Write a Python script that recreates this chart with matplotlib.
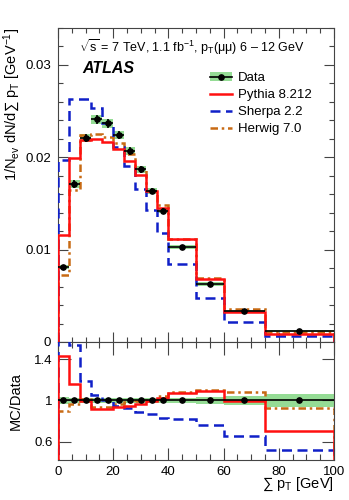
import numpy as np
import matplotlib
matplotlib.use("Agg")
import matplotlib.pyplot as plt
from matplotlib.patches import Patch
from matplotlib.lines import Line2D

plt.rcParams['font.family'] = ['Liberation Sans', 'DejaVu Sans']
plt.rcParams['mathtext.fontset'] = 'custom'
plt.rcParams['mathtext.rm'] = 'Liberation Sans'
plt.rcParams['mathtext.it'] = 'Liberation Sans:italic'
plt.rcParams['mathtext.bf'] = 'Liberation Sans:bold'

# bin edges of sum pT [GeV]
edges = [0, 4, 8, 12, 16, 20, 24, 28, 32, 36, 40, 50, 60, 75, 100]

# normalised distributions
data = [0.0081, 0.0171, 0.0221, 0.0241, 0.0237, 0.0224, 0.0207, 0.0187,
        0.0164, 0.0142, 0.0103, 0.00628, 0.00332, 0.00119]
data_relerr = [0.03, 0.025, 0.02, 0.02, 0.02, 0.02, 0.02, 0.02,
               0.02, 0.02, 0.02, 0.03, 0.04, 0.065]
pythia = [0.0116, 0.0199, 0.0219, 0.0220, 0.0217, 0.0209, 0.0196, 0.0181,
          0.0163, 0.0145, 0.0111, 0.00686, 0.0033, 0.00084]
sherpa = [0.0197, 0.0263, 0.0263, 0.0253, 0.0237, 0.0211, 0.0191, 0.0166,
          0.01425, 0.0118, 0.0084, 0.00478, 0.00218, 0.00061]
herwig = [0.0073, 0.0165, 0.0224, 0.0225, 0.0222, 0.0216, 0.0204, 0.0186,
          0.0164, 0.0148, 0.0112, 0.0069, 0.0036, 0.0011]

edges = np.array(edges, dtype=float)
data = np.array(data)
err = data * np.array(data_relerr)
centers = 0.5 * (edges[1:] + edges[:-1])
widths = np.diff(edges)

green = '#95dc95'
c_py, c_sh, c_hw = '#ff1010', '#1020c8', '#c86a14'
ls_sh = (0, (4, 2.2))
ls_hw = (0, (3, 1.5, 1, 1.5))

fig = plt.figure(figsize=(3.49, 5.0), dpi=100)
ax = fig.add_axes([0.166, 0.316, 0.791, 0.628])
rx = fig.add_axes([0.166, 0.08, 0.791, 0.236], sharex=ax)

# ---- top panel
ax.bar(edges[:-1], 2 * err, bottom=data - err, width=widths, align='edge',
       color=green, lw=0, zorder=1)
ax.stairs(herwig, edges, color=c_hw, lw=1.8, ls=ls_hw, zorder=2)
ax.stairs(sherpa, edges, color=c_sh, lw=1.8, ls=ls_sh, zorder=3)
ax.stairs(pythia, edges, color=c_py, lw=1.8, zorder=4)
ax.errorbar(centers, data, xerr=widths / 2, yerr=err, fmt='o', color='black',
            ms=3.8, lw=1.2, capsize=0, zorder=5)

ax.set_xlim(0, 100)
ax.set_ylim(0, 0.034)
ax.set_yticks([0, 0.01, 0.02, 0.03])
ax.set_yticklabels(['0', '0.01', '0.02', '0.03'])
ax.set_yticks(np.arange(0, 0.0341, 0.002), minor=True)
ax.set_ylabel('1/N$_{\\rm ev}$ dN/d\u2211 p$_{\\rm T}$ [GeV$^{-1}$]',
              loc='top', fontsize=10.5, labelpad=2)

ax.text(0.075, 0.94, '$\\sqrt{\\rm s}$ = 7 TeV, 1.1 fb$^{-1}$, p$_{\\rm T}$(\u03bc\u03bc) 6 \u2013 12 GeV',
        transform=ax.transAxes, fontsize=9, va='center', ha='left')
ax.text(0.09, 0.87, 'ATLAS', transform=ax.transAxes, fontsize=11.5,
        fontweight='bold', fontstyle='italic', va='center', ha='left')

handles = [(Patch(facecolor=green, lw=0),
            Line2D([], [], color='black', marker='o', ms=3.8, lw=1.2)),
           Line2D([], [], color=c_py, lw=1.8),
           Line2D([], [], color=c_sh, lw=1.8, ls=ls_sh),
           Line2D([], [], color=c_hw, lw=1.8, ls=ls_hw)]
labels = ['Data', 'Pythia 8.212', 'Sherpa 2.2', 'Herwig 7.0']
ax.legend(handles, labels, loc='upper left', bbox_to_anchor=(0.55, 0.86),
          frameon=False, fontsize=9.5, handlelength=1.7, handletextpad=0.45,
          labelspacing=0.36, borderpad=0, borderaxespad=0)

# ---- ratio panel
ratio_err = np.array(data_relerr)
rx.bar(edges[:-1], 2 * ratio_err, bottom=1 - ratio_err, width=widths,
       align='edge', color=green, lw=0, zorder=1)
rx.stairs(np.array(herwig) / data, edges, color=c_hw, lw=1.8, ls=ls_hw, zorder=2)
rx.stairs(np.array(sherpa) / data, edges, color=c_sh, lw=1.8, ls=ls_sh, zorder=3)
rx.stairs(np.array(pythia) / data, edges, color=c_py, lw=1.8, zorder=4)
rx.errorbar(centers, np.ones_like(data), xerr=widths / 2, fmt='o',
            color='black', ms=3.8, lw=1.2, capsize=0, zorder=5)

rx.set_ylim(0.42, 1.57)
rx.set_yticks([0.6, 1.0, 1.4])
rx.set_yticklabels(['0.6', '1', '1.4'])
rx.set_ylabel('MC/Data', fontsize=10.5, labelpad=8)
rx.set_xlabel('\u2211 p$_{\\rm T}$ [GeV]', loc='right', fontsize=10.5, labelpad=-1)
rx.set_xticks([0, 20, 40, 60, 80, 100])
rx.set_xticks(np.arange(0, 101, 5), minor=True)

for a in (ax, rx):
    a.tick_params(which='both', direction='in', top=True, right=True,
                  labelsize=9.5, width=0.8, color='#444444')
    for s in a.spines.values():
        s.set_linewidth(0.8)
        s.set_color('#444444')
ax.tick_params(which='major', length=7, pad=5)
ax.tick_params(which='minor', length=3.5)
ax.tick_params(labelbottom=False)
rx.tick_params(which='major', length=9, pad=4)
rx.tick_params(which='minor', length=4.5)

fig.savefig('out.png', dpi=100)
